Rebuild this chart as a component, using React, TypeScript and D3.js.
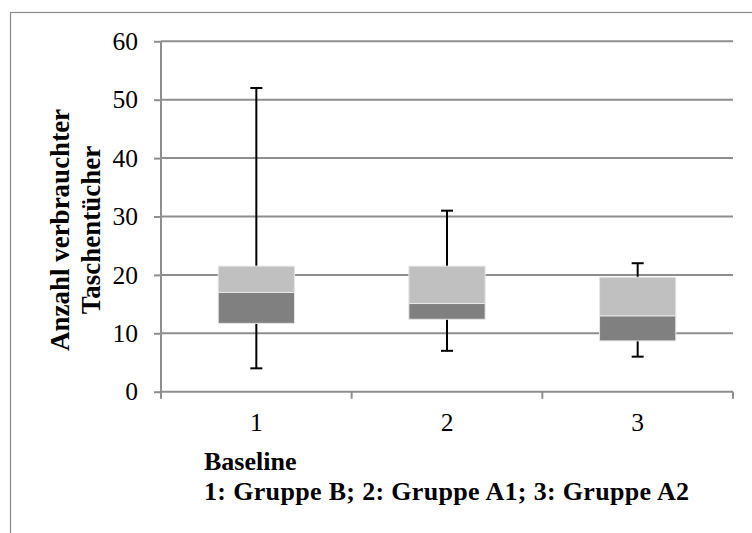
import React, { useRef, useEffect } from 'react';
import * as d3 from 'd3';

// Baseline values
const categories = ['1', '2', '3'];
const minVals = [4, 7, 6];
const q1Vals = [11.7, 12.4, 8.7];
const medianVals = [17, 15.1, 13];
const q3Vals = [21.5, 21.5, 19.6];
const maxVals = [52, 31, 22];
const yTicks = [0, 10, 20, 30, 40, 50, 60];

const yTitle = ['Anzahl verbrauchter', 'Taschentücher'];
const xTitle = ['Baseline', '1: Gruppe B; 2: Gruppe A1; 3: Gruppe A2'];

const FONT = '"Liberation Serif", "Times New Roman", serif';

export default function App() {
    const chartRef = useRef<SVGSVGElement>(null);
    const width = 752, height = 533;

    useEffect(() => {
        const margin = { top: 41.3, right: 19, bottom: 141.3, left: 161 };

        const svg = d3.select(chartRef.current);
        svg.selectAll('*').remove();

        const xScale = d3.scaleBand()
            .domain(categories)
            .range([margin.left, width - margin.right])
            .paddingInner(0.6)
            .paddingOuter(0.3);

        const yScale = d3.scaleLinear()
            .domain([0, 60])
            .range([height - margin.bottom, margin.top]);

        // outer frame
        svg.append('rect')
            .attr('x', 10.5).attr('y', 12.5)
            .attr('width', 800).attr('height', 600)
            .attr('fill', 'none')
            .attr('stroke', '#8c8c8c')
            .attr('stroke-width', 1.2);

        // gridlines
        svg.append('g').selectAll('line').data(yTicks.filter(t => t > 0)).join('line')
            .attr('x1', margin.left).attr('x2', width - margin.right)
            .attr('y1', d => yScale(d)).attr('y2', d => yScale(d))
            .attr('stroke', '#8e8e8e')
            .attr('stroke-width', 2);

        // y axis
        const yAxis = d3.axisLeft(yScale).tickValues(yTicks).tickSize(7).tickPadding(16);
        const gy = svg.append('g').attr('transform', `translate(${margin.left},0)`).call(yAxis);
        gy.select('.domain').attr('stroke', '#8e8e8e').attr('stroke-width', 2)
            .attr('d', `M0,${yScale(60)}V${yScale(0) + 7}`);
        gy.selectAll('.tick line').attr('stroke', '#8e8e8e').attr('stroke-width', 2);
        gy.selectAll('.tick text')
            .attr('font-family', FONT).attr('font-size', 25.5).attr('fill', '#000');

        // x axis
        const edges = [margin.left, ...categories.map((c, i) => margin.left + (i + 1) * (width - margin.right - margin.left) / categories.length)];
        const gx = svg.append('g');
        gx.append('line')
            .attr('x1', margin.left).attr('x2', width - margin.right)
            .attr('y1', yScale(0)).attr('y2', yScale(0))
            .attr('stroke', '#8e8e8e').attr('stroke-width', 2);
        gx.selectAll('line.tk').data(edges.slice(1)).join('line')
            .attr('class', 'tk')
            .attr('x1', d => d).attr('x2', d => d)
            .attr('y1', yScale(0)).attr('y2', yScale(0) + 7)
            .attr('stroke', '#8e8e8e').attr('stroke-width', 2);
        gx.selectAll('text').data(categories).join('text')
            .attr('x', d => (xScale(d) ?? 0) + xScale.bandwidth() / 2)
            .attr('y', yScale(0) + 39)
            .attr('text-anchor', 'middle')
            .attr('font-family', FONT).attr('font-size', 25.5)
            .text(d => d);

        // whiskers
        const cap = 6;
        const wg = svg.append('g').attr('stroke', '#000').attr('stroke-width', 2);
        categories.forEach((c, i) => {
            const cx = (xScale(c) ?? 0) + xScale.bandwidth() / 2;
            wg.append('line').attr('x1', cx).attr('x2', cx)
                .attr('y1', yScale(maxVals[i])).attr('y2', yScale(minVals[i]));
            wg.append('line').attr('x1', cx - cap).attr('x2', cx + cap)
                .attr('y1', yScale(maxVals[i])).attr('y2', yScale(maxVals[i]));
            wg.append('line').attr('x1', cx - cap).attr('x2', cx + cap)
                .attr('y1', yScale(minVals[i])).attr('y2', yScale(minVals[i]));
        });

        // boxes: lower part q1-median dark, upper part median-q3 light
        svg.append('g').selectAll('rect').data(categories).join('rect')
            .attr('x', d => xScale(d) ?? 0)
            .attr('width', xScale.bandwidth())
            .attr('y', (d, i) => yScale(medianVals[i]))
            .attr('height', (d, i) => yScale(q1Vals[i]) - yScale(medianVals[i]))
            .attr('fill', '#808080')
            .attr('stroke', '#e6e6e6').attr('stroke-width', 1);

        svg.append('g').selectAll('rect').data(categories).join('rect')
            .attr('x', d => xScale(d) ?? 0)
            .attr('width', xScale.bandwidth())
            .attr('y', (d, i) => yScale(q3Vals[i]))
            .attr('height', (d, i) => yScale(medianVals[i]) - yScale(q3Vals[i]))
            .attr('fill', '#c0c0c0')
            .attr('stroke', '#e6e6e6').attr('stroke-width', 1);

        // y title (rotated, two lines)
        yTitle.forEach((t, i) => {
            svg.append('text')
                .attr('transform', `translate(${69 + i * 31},230) rotate(-90)`)
                .attr('text-anchor', 'middle')
                .attr('font-family', FONT).attr('font-size', 27).attr('font-weight', 'bold')
                .text(t);
        });

        // x title
        svg.append('text')
            .attr('x', 204).attr('y', 470)
            .attr('font-family', FONT).attr('font-size', 26).attr('font-weight', 'bold')
            .text(xTitle[0]);
        svg.append('text')
            .attr('x', 204).attr('y', 500)
            .attr('font-family', FONT).attr('font-size', 26).attr('font-weight', 'bold')
            .attr('textLength', 485).attr('lengthAdjust', 'spacing')
            .text(xTitle[1]);

    }, []);

    return (
        <svg width={width} height={height} ref={chartRef}
            style={{ position: 'absolute', left: 0, top: 0, background: '#fff' }} />
    );
}
